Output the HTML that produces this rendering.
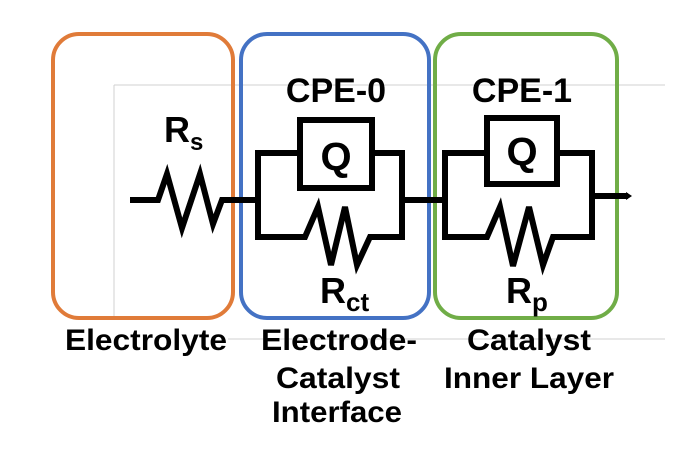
<!DOCTYPE html>
<html><head><style>body{margin:0;background:#fff}svg{display:block}text{font-family:"Liberation Sans",Arial,sans-serif;font-weight:bold;fill:#000}</style></head>
<body>
<svg width="688" height="451" viewBox="0 0 688 451">
<g stroke="#d0d0d0" stroke-width="1" fill="none">
<line x1="114" y1="85" x2="665" y2="85"/>
<line x1="114" y1="85" x2="114" y2="316"/>
<line x1="228" y1="339" x2="665" y2="339"/>
</g>
<rect x="53" y="34" width="180" height="284" rx="26" fill="none" stroke="#E07B39" stroke-width="4"/>
<rect x="241" y="34" width="188" height="284" rx="26" fill="none" stroke="#4472C4" stroke-width="4"/>
<rect x="435" y="34" width="182" height="284" rx="26" fill="none" stroke="#70AD47" stroke-width="4"/>
<g stroke="#000" stroke-width="6" fill="none" stroke-linejoin="miter">
<polyline points="130,200 158,200 167,174 182,228 200,174 213,224 222,200 258,200"/>
<polyline points="300,153 258,153 258,237 305,237 318,207 331,265 345,207 357,265 370,237 402,237 402,153 372,153"/>
<rect x="300" y="120" width="72" height="68"/>
<line x1="402" y1="200" x2="445" y2="200"/>
<polyline points="487,153 445,153 445,237 487,237 500,207 513,266 529,207 543,265 553,237 592,237 592,153 557,153"/>
<rect x="487" y="118" width="70" height="66"/>
<line x1="592" y1="196" x2="628" y2="196"/>
</g>
<polygon points="626,192 632,196 626,200" fill="#000"/>
<text x="336" y="170" font-size="40" text-anchor="middle">Q</text>
<text x="522" y="165" font-size="40" text-anchor="middle">Q</text>
<text x="336" y="102" font-size="34" text-anchor="middle">CPE-0</text>
<text x="522" y="102" font-size="34" text-anchor="middle">CPE-1</text>
<text x="164" y="142" font-size="36">R<tspan font-size="24" dy="8">s</tspan></text>
<text x="320" y="303" font-size="36">R<tspan font-size="26" dy="8">ct</tspan></text>
<text x="506" y="303" font-size="36">R<tspan font-size="26" dy="8">p</tspan></text>
<g font-size="30" text-anchor="middle">
<text x="146" y="350" textLength="162" lengthAdjust="spacingAndGlyphs">Electrolyte</text>
<text x="339" y="350" textLength="156" lengthAdjust="spacingAndGlyphs">Electrode-</text>
<text x="338" y="388" textLength="124" lengthAdjust="spacingAndGlyphs">Catalyst</text>
<text x="337" y="422" textLength="130" lengthAdjust="spacingAndGlyphs">Interface</text>
<text x="529" y="350" textLength="124" lengthAdjust="spacingAndGlyphs">Catalyst</text>
<text x="529" y="388" textLength="170" lengthAdjust="spacingAndGlyphs">Inner Layer</text>
</g>
</svg>
</body></html>
